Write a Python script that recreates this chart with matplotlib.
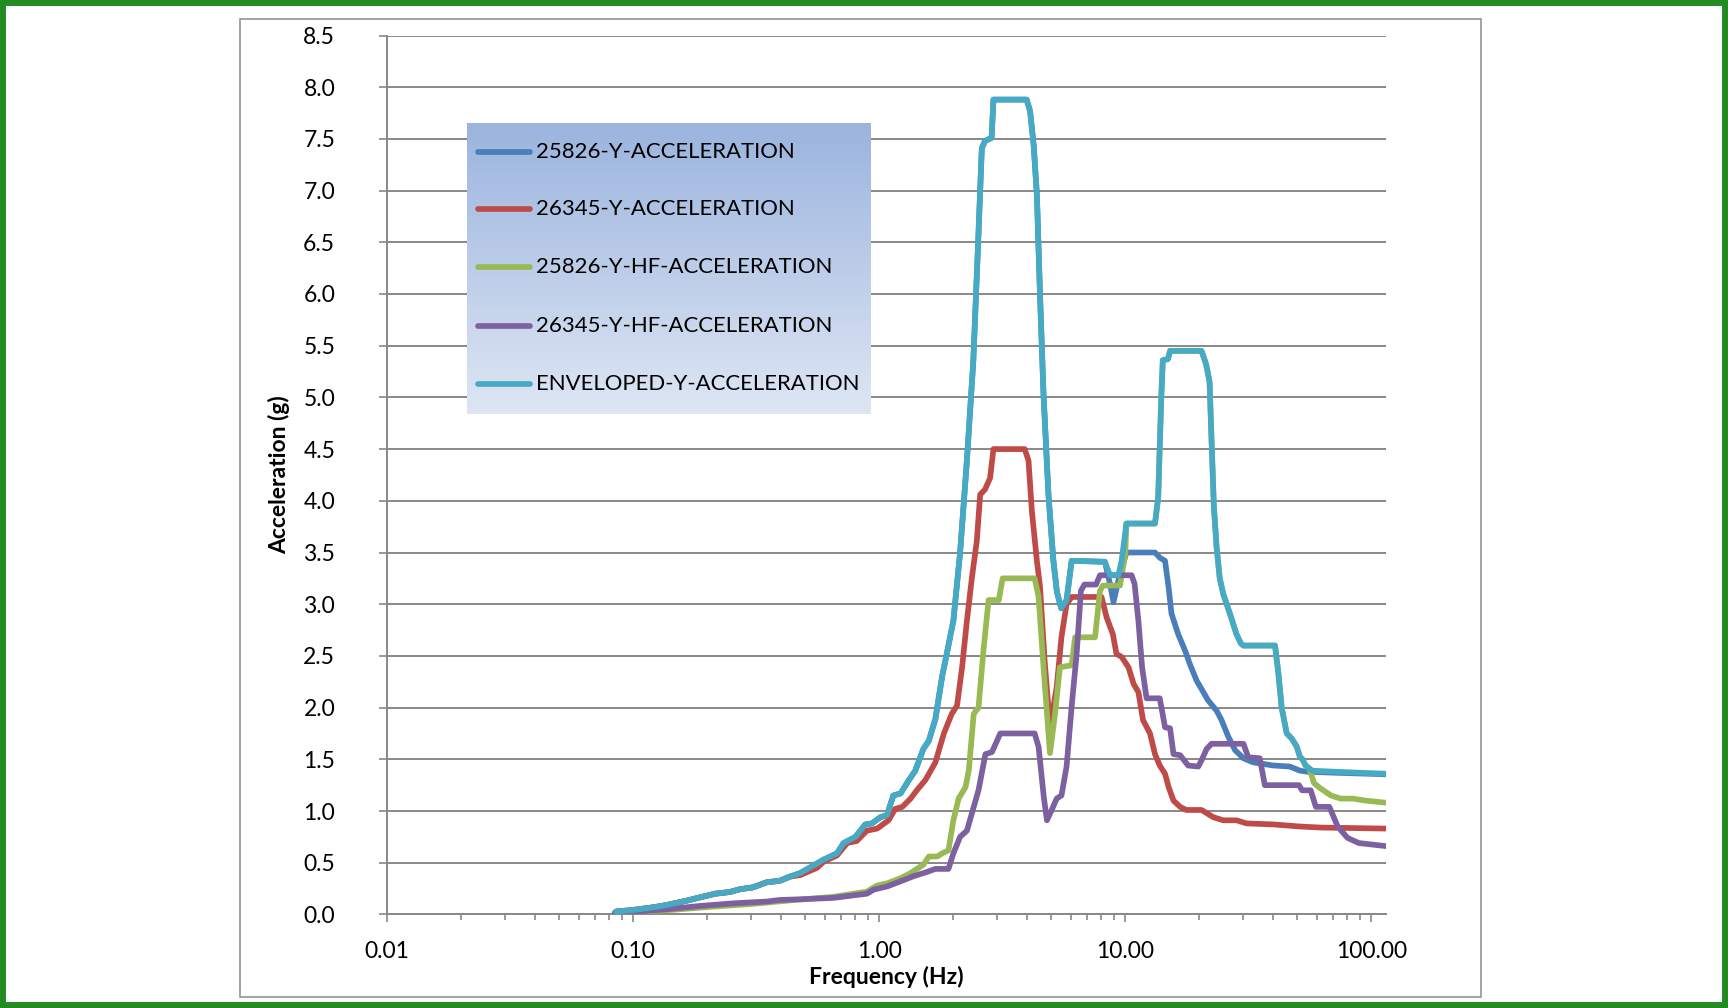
import numpy as np
import matplotlib
matplotlib.use("Agg")
import matplotlib.pyplot as plt
from matplotlib.lines import Line2D
from matplotlib.patches import Rectangle
from matplotlib.colors import LinearSegmentedColormap
from matplotlib.ticker import FixedLocator, LogLocator, NullFormatter

plt.rcParams['font.family'] = ['Lato', 'DejaVu Sans']

# ---------------- data ----------------
series_names = [
    "25826-Y-ACCELERATION",
    "26345-Y-ACCELERATION",
    "25826-Y-HF-ACCELERATION",
    "26345-Y-HF-ACCELERATION",
    "ENVELOPED-Y-ACCELERATION",
]
series_colors = ["#4A7EBB", "#BE4B48", "#98B954", "#7D60A0", "#46AAC5"]

# Enveloped response spectrum (Hz, g)
env_freq = [0.085, 0.100, 0.121, 0.137, 0.165, 0.187, 0.215, 0.247, 0.271, 0.307,
            0.348, 0.395, 0.433, 0.477, 0.594, 0.673, 0.716, 0.80, 0.877, 0.934,
            1.01, 1.075, 1.14, 1.22, 1.32, 1.40, 1.51, 1.59, 1.69, 1.80,
            1.88, 2.00, 2.13, 2.27, 2.41, 2.52, 2.61, 2.69, 2.86, 2.91,
            3.97, 4.10, 4.24, 4.37, 4.50, 4.65, 4.87, 5.10, 5.27, 5.49,
            5.77, 6.05, 8.26, 8.66, 9.37, 9.66, 10.1, 13.2, 13.6, 14.0,
            14.2, 14.9, 15.2, 20.4, 21.3, 22.0, 22.4, 22.9, 23.5, 24.2,
            25.0, 26.6, 28.3, 29.5, 30.2, 40.6, 41.9, 43.2, 45.3, 47.5,
            49.8, 51.3, 52.5, 54.0, 57.5, 71.0, 115.0]
env_acc = [0.027, 0.043, 0.069, 0.091, 0.133, 0.165, 0.20, 0.217, 0.243, 0.262,
           0.31, 0.326, 0.365, 0.40, 0.53, 0.59, 0.69, 0.75, 0.87, 0.88,
           0.94, 0.96, 1.15, 1.17, 1.30, 1.39, 1.60, 1.68, 1.89, 2.30,
           2.52, 2.84, 3.50, 4.39, 5.35, 6.48, 7.41, 7.48, 7.51, 7.88,
           7.88, 7.77, 7.44, 6.96, 5.99, 5.03, 4.06, 3.42, 3.12, 2.96,
           3.04, 3.42, 3.41, 3.28, 3.28, 3.42, 3.78, 3.78, 4.03, 5.00,
           5.36, 5.37, 5.45, 5.45, 5.32, 5.15, 4.60, 3.95, 3.55, 3.25,
           3.10, 2.91, 2.71, 2.62, 2.60, 2.60, 2.33, 2.00, 1.75, 1.70,
           1.62, 1.52, 1.50, 1.44, 1.39, 1.38, 1.36]

# 25826-Y (Hz, g)
y25826_freq = [0.085, 0.100, 0.121, 0.137, 0.165, 0.187, 0.215, 0.247, 0.271, 0.307,
               0.348, 0.395, 0.433, 0.477, 0.594, 0.673, 0.716, 0.80, 0.877, 0.934,
               1.01, 1.075, 1.14, 1.22, 1.32, 1.40, 1.51, 1.59, 1.69, 1.80,
               1.88, 2.00, 2.13, 2.27, 2.41, 2.52, 2.61, 2.69, 2.86, 2.91,
               3.97, 4.10, 4.24, 4.37, 4.50, 4.65, 4.87, 5.10, 5.27, 5.49,
               5.77, 6.05, 8.26, 8.66, 8.95, 9.37, 10.1, 13.2, 13.8, 14.5,
               15.0, 15.4, 16.4, 17.5, 18.3, 19.5, 20.4, 21.7, 23.5, 24.6,
               26.2, 27.9, 30.2, 33.1, 40.0, 46.6, 51.3, 54.8, 71.0, 115.0]
y25826_acc = [0.027, 0.043, 0.069, 0.091, 0.133, 0.165, 0.20, 0.217, 0.243, 0.262,
              0.31, 0.326, 0.365, 0.40, 0.53, 0.59, 0.69, 0.75, 0.87, 0.88,
              0.94, 0.96, 1.15, 1.17, 1.30, 1.39, 1.60, 1.68, 1.89, 2.30,
              2.52, 2.84, 3.50, 4.39, 5.35, 6.48, 7.41, 7.48, 7.51, 7.88,
              7.88, 7.77, 7.44, 6.96, 5.99, 5.03, 4.06, 3.42, 3.12, 2.96,
              3.04, 3.42, 3.41, 3.20, 3.02, 3.23, 3.50, 3.50, 3.45, 3.42,
              3.16, 2.91, 2.71, 2.55, 2.42, 2.26, 2.18, 2.07, 1.97, 1.88,
              1.72, 1.59, 1.51, 1.47, 1.44, 1.43, 1.39, 1.38, 1.37, 1.355]

# 26345-Y (Hz, g)
y26345_freq = [0.085, 0.100, 0.121, 0.137, 0.165, 0.187, 0.215, 0.247, 0.271, 0.307,
               0.348, 0.395, 0.433, 0.477, 0.558, 0.594, 0.673, 0.74, 0.81, 0.89,
               0.98, 1.09, 1.16, 1.24, 1.34, 1.42, 1.54, 1.69, 1.83, 1.97,
               2.07, 2.17, 2.27, 2.38, 2.49, 2.57, 2.69, 2.82, 2.91, 3.90,
               4.04, 4.17, 4.37, 4.50, 4.70, 4.94, 5.26, 5.50, 5.77, 6.05,
               8.0, 8.4, 8.9, 9.2, 9.66, 10.3, 10.8, 11.3, 11.8, 12.6,
               13.2, 13.8, 14.5, 15.0, 15.7, 16.7, 17.7, 20.4, 22.8, 25.0,
               28.3, 31.1, 40.0, 51.3, 62.0, 115.0]
y26345_acc = [0.027, 0.043, 0.069, 0.091, 0.133, 0.165, 0.20, 0.217, 0.243, 0.262,
              0.31, 0.326, 0.365, 0.38, 0.45, 0.51, 0.57, 0.69, 0.71, 0.81,
              0.83, 0.91, 1.02, 1.04, 1.12, 1.20, 1.30, 1.47, 1.75, 1.94,
              2.02, 2.39, 2.84, 3.26, 3.61, 4.06, 4.11, 4.22, 4.50, 4.50,
              4.39, 3.90, 3.42, 3.17, 2.45, 1.81, 2.20, 2.68, 3.00, 3.07,
              3.07, 2.87, 2.71, 2.52, 2.49, 2.39, 2.23, 2.15, 1.88, 1.75,
              1.55, 1.44, 1.36, 1.23, 1.10, 1.04, 1.01, 1.01, 0.94, 0.91,
              0.91, 0.88, 0.87, 0.85, 0.84, 0.83]

# 25826-Y-HF (Hz, g)
y25826hf_freq = [0.085, 0.137, 0.209, 0.30, 0.456, 0.652, 0.89, 0.98, 1.075, 1.22,
                 1.34, 1.51, 1.59, 1.72, 1.80, 1.91, 2.00, 2.10, 2.24, 2.31,
                 2.42, 2.53, 2.65, 2.78, 3.06, 3.17, 4.28, 4.44, 4.66, 4.94,
                 5.18, 5.42, 6.05, 6.25, 7.53, 7.89, 8.1, 9.51, 10.0, 10.1,
                 13.2, 13.6, 14.0, 14.2, 14.9, 15.2, 20.4, 21.3, 22.0, 22.4,
                 22.9, 23.5, 24.2, 25.0, 26.6, 28.3, 29.5, 30.2, 40.6, 41.9,
                 43.2, 45.3, 47.5, 49.8, 51.3, 52.5, 54.0, 56.0, 58.5, 62.0,
                 68.5, 75.0, 84.0, 95.0, 115.0]
y25826hf_acc = [0.015, 0.04, 0.074, 0.10, 0.14, 0.17, 0.22, 0.28, 0.30, 0.35,
                0.40, 0.48, 0.56, 0.56, 0.59, 0.62, 0.91, 1.12, 1.23, 1.39,
                1.94, 2.00, 2.55, 3.04, 3.04, 3.25, 3.25, 3.07, 2.36, 1.56,
                1.94, 2.39, 2.41, 2.68, 2.68, 3.13, 3.18, 3.18, 3.49, 3.78,
                3.78, 4.03, 5.00, 5.36, 5.37, 5.45, 5.45, 5.32, 5.15, 4.60,
                3.95, 3.55, 3.25, 3.10, 2.91, 2.71, 2.62, 2.60, 2.60, 2.33,
                2.00, 1.75, 1.70, 1.62, 1.52, 1.50, 1.44, 1.41, 1.27, 1.22,
                1.15, 1.12, 1.12, 1.10, 1.08]

# 26345-Y-HF (Hz, g)
y26345hf_freq = [0.084, 0.100, 0.137, 0.187, 0.255, 0.348, 0.395, 0.476, 0.652, 0.89,
                 0.95, 1.075, 1.22, 1.38, 1.56, 1.69, 1.91, 2.00, 2.13, 2.27,
                 2.42, 2.53, 2.70, 2.87, 3.01, 3.10, 4.28, 4.44, 4.66, 4.80,
                 5.00, 5.26, 5.50, 5.77, 6.05, 6.34, 6.60, 6.82, 7.60, 7.89,
                 10.6, 10.9, 11.3, 11.7, 12.2, 13.8, 14.5, 15.2, 15.7, 16.7,
                 18.0, 19.8, 20.4, 21.4, 22.4, 30.2, 31.6, 35.2, 36.9, 50.8,
                 52.3, 56.7, 59.5, 67.5, 73.0, 80.0, 89.0, 115.0]
y26345hf_acc = [0.017, 0.024, 0.05, 0.082, 0.107, 0.124, 0.14, 0.146, 0.16, 0.20,
                0.24, 0.27, 0.32, 0.37, 0.41, 0.44, 0.44, 0.59, 0.75, 0.81,
                1.04, 1.20, 1.55, 1.57, 1.68, 1.75, 1.75, 1.62, 1.14, 0.91,
                1.00, 1.12, 1.15, 1.43, 2.01, 2.52, 3.13, 3.19, 3.19, 3.28,
                3.28, 3.20, 2.84, 2.39, 2.09, 2.09, 1.81, 1.80, 1.55, 1.54,
                1.44, 1.43, 1.49, 1.60, 1.65, 1.65, 1.52, 1.51, 1.25, 1.25,
                1.20, 1.20, 1.04, 1.04, 0.85, 0.74, 0.69, 0.66]

series_data = [
    (y25826_freq, y25826_acc),
    (y26345_freq, y26345_acc),
    (y25826hf_freq, y25826hf_acc),
    (y26345hf_freq, y26345hf_acc),
    (env_freq, env_acc),
]

x_ticks = [0.01, 0.1, 1, 10, 100]
x_tick_labels = ["0.01", "0.10", "1.00", "10.00", "100.00"]
y_ticks = [i * 0.5 for i in range(18)]
y_tick_labels = [f"{v:.1f}" for v in y_ticks]

# ---------------- figure ----------------
W, H, DPI = 1728, 1008, 100
FS = 16.5
LEG_FS = 15.9
LW = 4.1
GRID = "#888888"

fig = plt.figure(figsize=(W / DPI, H / DPI), dpi=DPI)
fig.patch.set_facecolor("white")

# outer green frame
fig.patches.append(Rectangle((0, 0), 1, 1, transform=fig.transFigure, fill=False,
                             edgecolor="#228B22", linewidth=8.6, zorder=10))
# chart-area border
fig.patches.append(Rectangle((240 / W, 1 - 997 / H), (1481 - 240) / W, (997 - 18.5) / H,
                             transform=fig.transFigure, fill=False,
                             edgecolor="#939393", linewidth=1.2, zorder=1))

ax = fig.add_axes([387.3 / W, 1 - 914.4 / H, 998.6 / W, 878.9 / H])
ax.set_facecolor("none")
for (fx, gy), col in zip(series_data, series_colors):
    ax.plot(fx, gy, color=col, lw=LW, solid_joinstyle="round",
            solid_capstyle="round", zorder=3)

ax.set_xscale("log")
ax.set_xlim(0.01, 114.6)
ax.set_ylim(0, 8.5)

ax.xaxis.set_major_locator(FixedLocator(x_ticks))
ax.set_xticklabels(x_tick_labels)
ax.xaxis.set_minor_locator(LogLocator(base=10, subs=np.arange(2, 10)))
ax.xaxis.set_minor_formatter(NullFormatter())
ax.set_yticks(y_ticks)
ax.set_yticklabels(y_tick_labels)

ax.yaxis.grid(True, color=GRID, lw=1.4)
ax.set_axisbelow(True)
for s in ("top", "right"):
    ax.spines[s].set_visible(False)
for s in ("left", "bottom"):
    ax.spines[s].set_color(GRID)
    ax.spines[s].set_linewidth(1.4)

ax.tick_params(axis="y", which="major", direction="out", length=6, width=1.2,
               color=GRID, pad=31.5, labelsize=FS)
ax.tick_params(axis="x", which="major", direction="out", length=6, width=1.2,
               color=GRID, pad=13, labelsize=FS)
ax.tick_params(axis="x", which="minor", direction="out", length=4, width=1.2,
               color=GRID)

ax.set_xlabel("Frequency (Hz)", fontsize=FS, fontweight="bold")
ax.set_ylabel("Acceleration (g)", fontsize=FS, fontweight="bold")
ax.xaxis.set_label_coords(0.5, (914.4 - 977) / 878.9)
ax.xaxis.label.set_va("center")
ax.yaxis.set_label_coords((279 - 387.3) / 998.6, 0.5)
ax.yaxis.label.set_va("center")
ax.yaxis.label.set_ha("center")

# ---------------- legend with gradient fill ----------------
lax = fig.add_axes([466.7 / W, 1 - 414 / H, 403.3 / W, 291.3 / H])
grad_cmap = LinearSegmentedColormap.from_list("legend_fill", ["#DEE6F4", "#9BB4DE"])
lax.imshow(np.linspace(0, 1, 256).reshape(-1, 1), cmap=grad_cmap, origin="lower",
           extent=[0, 1, 0, 1], aspect="auto", interpolation="bilinear")
lax.set_xlim(0, 1)
lax.set_ylim(0, 1)
lax.axis("off")
entry_y = [0.900, 0.703, 0.504, 0.302, 0.103]
for name, col, yy in zip(series_names, series_colors, entry_y):
    lax.add_line(Line2D([0.028, 0.158], [yy, yy], color=col, lw=LW,
                        solid_capstyle="round"))
    lax.text(0.172, yy, name, fontsize=LEG_FS, va="center", ha="left", color="black")

fig.savefig("out.png", dpi=DPI)
